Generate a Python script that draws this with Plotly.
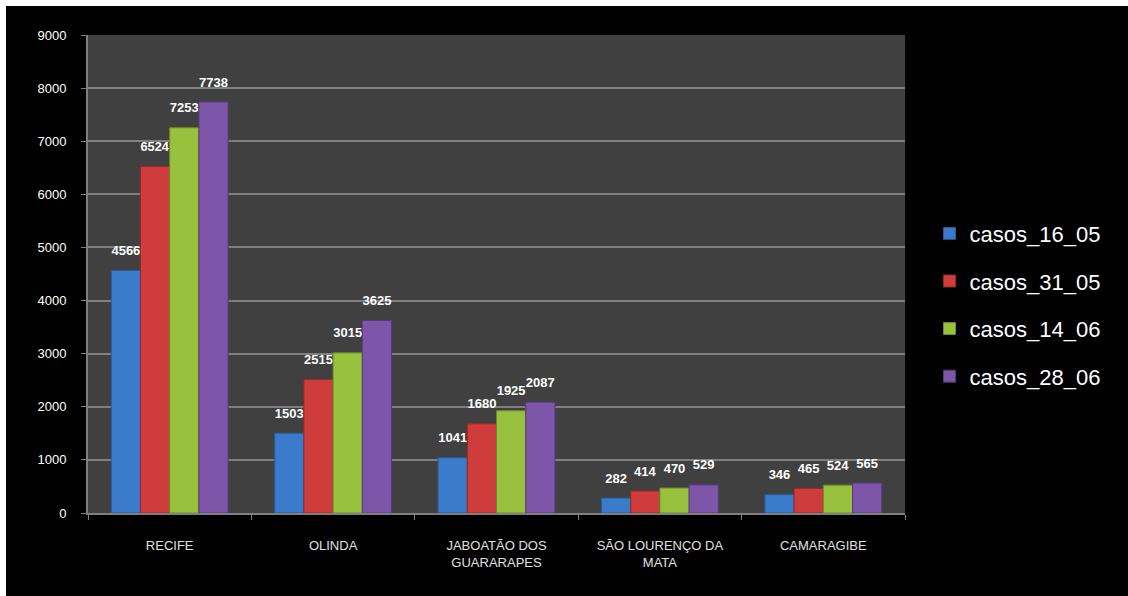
import plotly.graph_objects as go

categories = ["RECIFE", "OLINDA", "JABOATÃO DOS<br>GUARARAPES", "SÃO LOURENÇO DA<br>MATA", "CAMARAGIBE"]
series_names = ["casos_16_05", "casos_31_05", "casos_14_06", "casos_28_06"]
casos_16_05 = [4566, 1503, 1041, 282, 346]
casos_31_05 = [6524, 2515, 1680, 414, 465]
casos_14_06 = [7253, 3015, 1925, 470, 524]
casos_28_06 = [7738, 3625, 2087, 529, 565]
series_values = [casos_16_05, casos_31_05, casos_14_06, casos_28_06]
colors = ["#3b7bcb", "#cf3c3c", "#98c23e", "#7d56a9"]
edge_colors = ["#2a5a96", "#962828", "#6c8c2a", "#583a7c"]

fig = go.Figure()
for i, (name, vals) in enumerate(zip(series_names, series_values)):
    fig.add_trace(go.Bar(
        x=categories, y=vals, name=name,
        marker=dict(color=colors[i], line=dict(color=edge_colors[i], width=1)),
        text=[str(v) for v in vals], textposition="outside",
        textfont=dict(color="white", size=8, family="Liberation Sans"),
        texttemplate="<span style='font-size:13px'><b>%{text}</b></span><br> ",
        cliponaxis=False, legendgroup=name,
    ))

grid = "#7f7f7f"
fig.update_layout(
    width=1128, height=596,
    margin=dict(l=88, r=223, t=35, b=83),
    paper_bgcolor="black", plot_bgcolor="#404040",
    barmode="group", bargap=0.285, bargroupgap=0,
    font=dict(family="Liberation Sans", color="white", size=13),
    legend=dict(x=1.03, y=0.435, xanchor="left", yanchor="middle",
                font=dict(size=22, color="white"), tracegroupgap=16,
                bgcolor="rgba(0,0,0,0)"),
    yaxis=dict(range=[0, 9000], dtick=1000, showgrid=True, gridcolor=grid, gridwidth=2,
               showline=True, linecolor=grid, linewidth=2, ticks="outside", ticklen=5,
               tickcolor=grid, tickfont=dict(size=13, color="white"), ticklabelstandoff=12,
               zeroline=False),
    xaxis=dict(showline=True, linecolor=grid, linewidth=2, ticks="outside", ticklen=5,
               tickcolor=grid, tickson="boundaries", tickfont=dict(size=13, color="#e0e0e0"),
               ticklabelstandoff=19),
    shapes=[
        dict(type="rect", xref="paper", yref="paper", x0=-0.2, x1=1.4,
             y0=(513 - 6) / 478, y1=1.2, fillcolor="white", line=dict(width=0), layer="above"),
        dict(type="rect", xref="paper", yref="paper", x0=-0.2, x1=(6 - 88) / 817,
             y0=-0.3, y1=1.2, fillcolor="white", line=dict(width=0), layer="above"),
    ],
)
fig.write_html("out.html")
